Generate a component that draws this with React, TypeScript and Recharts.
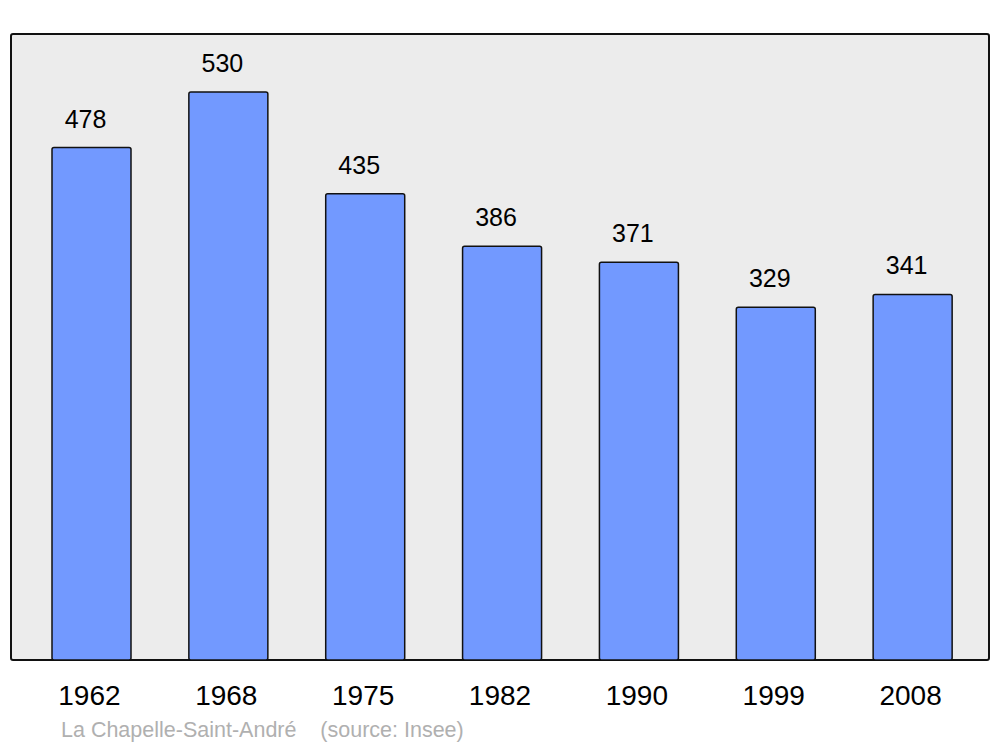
import { BarChart, Bar, XAxis, YAxis, LabelList } from 'recharts';

const years = ['1962', '1968', '1975', '1982', '1990', '1999', '2008'];
const population = [478, 530, 435, 386, 371, 329, 341];

const data = years.map((year, i) => ({ year, pop: population[i] }));

const font = '"Liberation Sans", Arial, sans-serif';

const App = () => {
  return (
    <div style={{ position: 'absolute', left: 0, top: 0, width: 1000, height: 747, background: '#fff', fontFamily: font }}>
      <div
        style={{
          position: 'absolute',
          left: 10,
          top: 33,
          width: 976,
          height: 624,
          background: '#ececec',
          border: '2.5px solid #111',
          borderRadius: 3,
        }}
      />
      <div style={{ position: 'absolute', left: 0, top: 0 }}>
        <BarChart width={1000} height={747} data={data} margin={{ top: 34, right: 11, bottom: 27, left: 11 }}>
          <XAxis
            dataKey="year"
            height={60}
            axisLine={false}
            tickLine={false}
            interval={0}
            padding={{ left: 12, right: 8 }}
            tickMargin={19}
            tick={{ fontSize: 28, fill: '#000', fontFamily: font, dx: -2 }}
          />
          <YAxis hide domain={[0, 584]} />
          <Bar dataKey="pop" fill="#7299ff" stroke="#111" strokeWidth={1.5} barSize={79} radius={2} isAnimationActive={false}>
            <LabelList dataKey="pop" position="top" offset={20} dx={-6} style={{ fontSize: 25, fill: '#000', fontFamily: font }} />
          </Bar>
        </BarChart>
      </div>
      <div style={{ position: 'absolute', left: 61, top: 718, fontSize: 21.5, color: '#b0b0b0', whiteSpace: 'pre' }}>
        {'La Chapelle-Saint-André    (source: Insee)'}
      </div>
    </div>
  );
};

export default App;
